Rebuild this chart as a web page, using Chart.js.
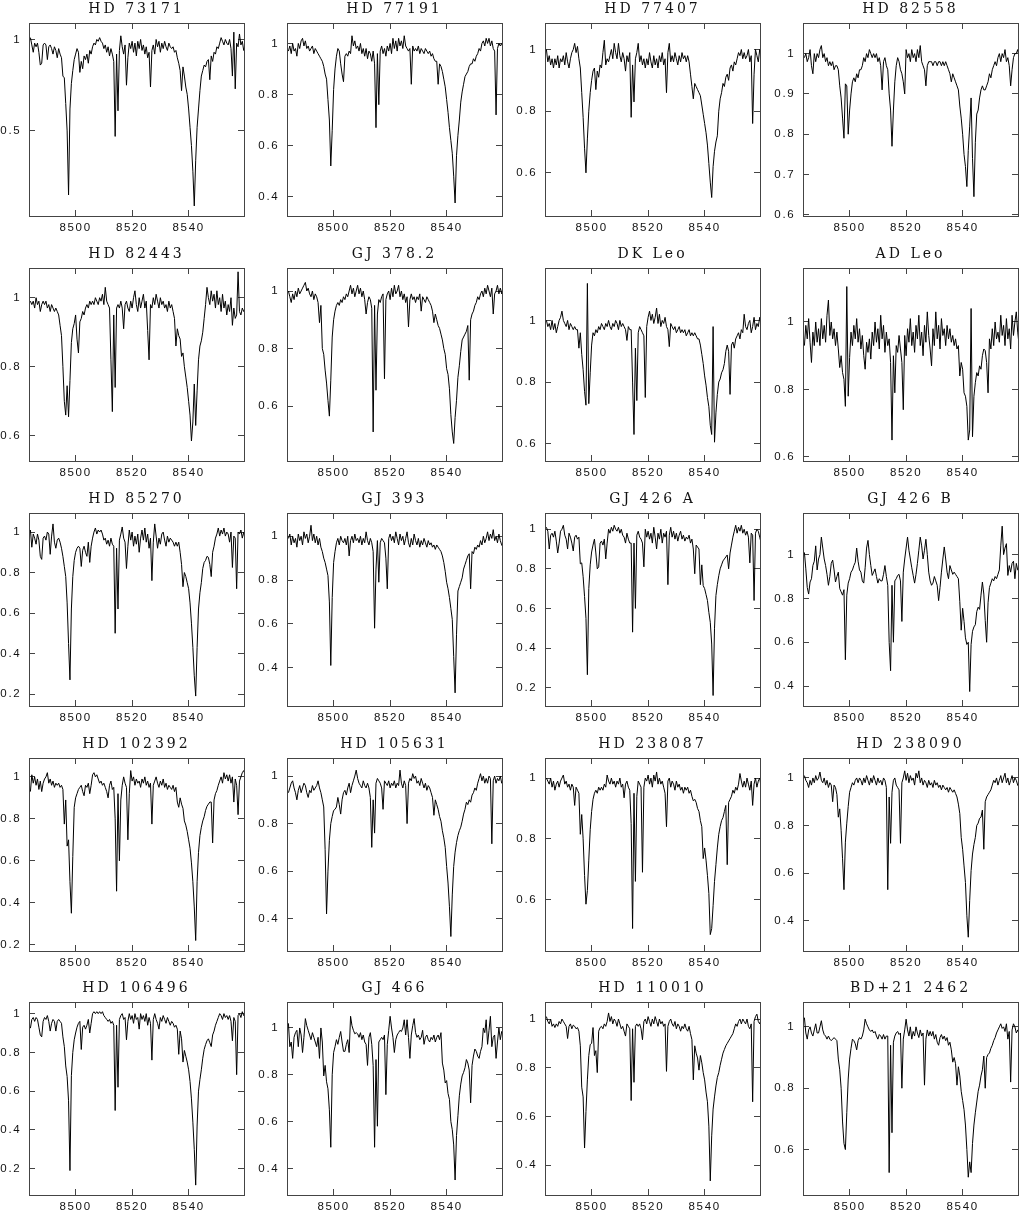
<!DOCTYPE html>
<html>
<head>
<meta charset="utf-8">
<script src="https://cdn.jsdelivr.net/npm/chart.js@4.4.1/dist/chart.umd.min.js"></script>
<style>
  html, body { margin: 0; padding: 0; background: #fff; overflow: hidden; }
  #wrap { position: relative; width: 1019px; height: 1213px; overflow: hidden; }
  #wrap canvas { position: absolute; }
</style>
</head>
<body>
<div id="wrap"></div>
<script>
// wavelength grid (Angstrom), shared by all spectra
var wave = [
  8484,8484.5,8485,8485.5,8486,8486.5,8487,8487.5,8488,8488.5,
  8489,8489.5,8490,8490.5,8491,8491.5,8492,8492.5,8493,8493.5,
  8494,8494.5,8495,8495.5,8496,8496.5,8497,8497.5,8498,8498.5,
  8499,8499.5,8500,8500.5,8501,8501.5,8502,8502.5,8503,8503.5,
  8504,8504.5,8505,8505.5,8506,8506.5,8507,8507.5,8508,8508.5,
  8509,8509.5,8510,8510.5,8511,8511.5,8512,8512.5,8513,8513.5,
  8514,8514.5,8515,8515.5,8516,8516.5,8517,8517.5,8518,8518.5,
  8519,8519.5,8520,8520.5,8521,8521.5,8522,8522.5,8523,8523.5,
  8524,8524.5,8525,8525.5,8526,8526.5,8527,8527.5,8528,8528.5,
  8529,8529.5,8530,8530.5,8531,8531.5,8532,8532.5,8533,8533.5,
  8534,8534.5,8535,8535.5,8536,8536.5,8537,8537.5,8538,8538.5,
  8539,8539.5,8540,8540.5,8541,8541.5,8542,8542.5,8543,8543.5,
  8544,8544.5,8545,8545.5,8546,8546.5,8547,8547.5,8548,8548.5,
  8549,8549.5,8550,8550.5,8551,8551.5,8552,8552.5,8553,8553.5,
  8554,8554.5,8555,8555.5,8556,8556.5,8557,8557.5,8558,8558.5,
  8559,8559.5,8560
];

// normalised flux of each star
var hd73171 = [
  1.01,0.97,0.93,0.98,0.96,0.98,0.93,0.86,0.87,0.97,
  0.98,0.97,0.89,0.96,0.97,0.95,0.92,0.96,0.94,0.90,
  0.95,0.92,0.90,0.80,0.79,0.65,0.50,0.15,0.62,0.76,
  0.83,0.89,0.92,0.95,0.93,0.82,0.88,0.84,0.91,0.89,
  0.92,0.87,0.94,0.92,0.96,0.98,0.97,1.00,0.99,1.01,
  0.99,0.98,0.95,0.97,0.93,0.96,0.91,0.95,0.92,0.88,
  0.47,0.92,0.61,0.94,1.02,0.96,0.92,0.97,0.75,0.90,
  0.98,0.95,0.99,0.93,0.98,0.91,0.99,0.95,1.00,0.94,
  0.97,0.92,0.96,0.90,0.93,0.74,0.94,0.97,0.92,1.00,
  0.96,0.99,0.93,0.98,0.95,0.99,0.96,0.94,0.98,0.96,
  0.95,0.96,0.93,0.94,0.90,0.87,0.83,0.72,0.85,0.80,
  0.74,0.70,0.62,0.52,0.42,0.28,0.09,0.34,0.52,0.62,
  0.72,0.80,0.83,0.86,0.85,0.88,0.89,0.78,0.91,0.88,
  0.93,0.92,0.96,0.95,0.98,1.01,0.99,0.97,1.00,0.98,
  0.97,1.00,0.95,0.80,1.04,0.73,0.98,0.96,1.03,0.97,
  0.99,0.94,0.97
];
var hd77191 = [
  0.97,0.99,0.96,1.00,0.97,0.98,0.95,1.00,0.98,1.01,
  1.02,0.99,1.01,0.98,0.99,0.97,0.98,0.99,0.96,0.98,
  0.97,0.96,0.95,0.94,0.93,0.91,0.88,0.86,0.78,0.70,
  0.52,0.66,0.82,0.90,0.95,0.98,0.97,0.92,0.88,0.85,
  0.95,0.96,0.95,0.97,0.96,1.03,0.99,1.01,0.98,0.99,
  0.97,1.00,0.96,0.98,0.95,0.98,0.94,0.97,0.96,0.93,
  0.97,0.92,0.67,0.96,0.76,0.97,0.99,0.96,0.98,0.95,
  0.99,0.97,1.00,0.96,1.02,0.98,1.01,0.97,1.02,0.99,
  1.01,0.98,1.03,0.99,0.98,0.97,0.98,0.84,0.99,0.97,
  0.98,0.97,0.99,0.96,0.98,0.97,0.96,0.98,0.97,0.96,
  0.97,0.95,0.96,0.94,0.93,0.93,0.84,0.92,0.91,0.89,
  0.86,0.83,0.78,0.73,0.67,0.62,0.57,0.48,0.375,0.56,
  0.64,0.70,0.77,0.81,0.84,0.87,0.88,0.89,0.91,0.92,
  0.92,0.94,0.93,0.95,0.96,0.98,0.97,1.00,1.01,0.99,
  1.02,1.00,1.02,0.99,1.01,0.98,0.97,0.72,0.98,1.00,
  0.99,1.00,0.98
];
var hd77407 = [
  1.00,0.96,0.98,0.95,0.97,0.94,0.97,0.95,0.98,0.94,
  0.97,0.96,0.98,0.95,0.99,0.96,0.94,0.97,0.99,1.00,
  1.02,0.99,1.01,0.97,0.94,0.86,0.78,0.68,0.60,0.71,
  0.80,0.86,0.90,0.93,0.94,0.87,0.93,0.91,0.95,0.94,
  0.99,1.03,0.95,0.97,0.96,0.98,1.00,0.97,1.02,0.99,
  0.97,1.02,0.98,0.96,0.99,0.97,0.93,0.98,0.96,0.99,
  0.78,0.95,0.83,0.97,0.99,1.02,0.96,0.98,0.95,0.97,
  0.94,0.97,0.95,0.99,0.96,0.94,0.98,0.95,0.97,0.94,
  0.98,0.96,0.99,0.95,0.97,0.86,0.99,1.02,0.96,0.98,
  0.96,0.99,0.97,0.95,0.98,0.96,0.99,0.97,0.98,0.96,
  0.98,0.96,0.92,0.88,0.84,0.89,0.88,0.87,0.86,0.85,
  0.82,0.79,0.76,0.73,0.69,0.63,0.57,0.52,0.62,0.67,
  0.70,0.72,0.80,0.84,0.86,0.89,0.88,0.91,0.92,0.90,
  0.94,0.95,0.93,0.96,0.95,0.97,0.99,0.98,1.00,0.97,
  0.99,0.97,0.98,1.00,0.96,0.98,0.76,0.92,1.00,0.98,
  0.96,1.00,0.97
];
var hd82558 = [
  0.99,1.00,0.98,0.99,1.01,0.97,0.95,1.00,0.98,1.00,
  0.99,1.01,1.02,0.99,1.00,0.98,0.99,0.97,0.98,0.97,
  0.98,0.96,0.97,0.97,0.96,0.92,0.89,0.84,0.79,0.925,
  0.92,0.80,0.86,0.90,0.93,0.94,0.93,0.95,0.94,0.96,
  0.96,0.97,0.99,0.98,1.00,0.99,1.01,1.00,0.99,1.00,
  0.99,1.00,0.98,0.99,0.97,0.91,0.98,0.99,0.97,0.96,
  0.90,0.86,0.77,0.86,0.93,0.97,0.99,0.98,0.96,0.95,
  0.93,0.90,1.01,0.99,1.00,0.98,1.01,0.99,1.00,0.98,
  1.01,0.99,1.02,0.98,0.97,0.96,0.92,0.97,0.98,0.98,
  0.98,0.97,0.98,0.98,0.97,0.98,0.98,0.97,0.98,0.97,
  0.98,0.97,0.96,0.95,0.93,0.95,0.94,0.93,0.92,0.91,
  0.87,0.84,0.80,0.75,0.72,0.67,0.76,0.82,0.89,0.74,
  0.645,0.78,0.85,0.86,0.89,0.91,0.92,0.91,0.91,0.92,
  0.93,0.95,0.94,0.96,0.97,0.98,0.97,0.99,1.00,0.98,
  1.00,0.99,1.01,0.98,0.99,0.97,0.92,0.96,0.99,1.00,
  1.00,1.01,0.99
];
var hd82443 = [
  0.99,0.98,0.99,0.97,1.00,0.98,0.99,0.96,0.98,0.99,
  0.98,0.99,0.97,0.98,0.96,0.98,0.97,0.96,0.97,0.96,
  0.95,0.92,0.89,0.80,0.70,0.66,0.745,0.655,0.76,0.87,
  0.91,0.925,0.95,0.88,0.84,0.93,0.94,0.96,0.95,0.97,
  0.98,0.97,0.99,0.98,0.99,0.98,1.00,0.99,0.98,1.00,
  0.99,1.01,0.98,1.03,0.99,0.98,0.97,0.82,0.67,0.95,
  0.74,0.97,0.98,0.97,0.99,0.97,0.91,0.98,0.99,0.97,
  0.96,0.99,0.97,1.00,1.02,0.98,0.96,1.00,0.97,0.99,
  1.01,0.97,0.99,0.905,0.82,0.98,0.97,1.00,0.98,1.01,
  0.99,0.97,1.00,0.98,0.99,0.97,0.98,0.96,0.99,0.97,
  0.98,0.96,0.94,0.86,0.91,0.89,0.88,0.83,0.84,0.80,
  0.77,0.74,0.70,0.66,0.585,0.64,0.75,0.63,0.73,0.82,
  0.86,0.875,0.90,0.94,0.98,1.03,1.00,0.98,1.02,0.99,
  1.01,0.97,1.02,0.98,1.00,0.96,1.01,0.97,0.99,0.95,
  0.98,0.96,1.00,0.92,0.97,0.94,0.95,1.075,0.96,0.95,
  0.97,0.96,0.97
];
var gj378_2 = [
  1.00,0.98,0.96,0.99,0.97,1.00,0.98,1.01,0.99,1.00,
  1.01,1.02,1.03,1.00,1.01,0.99,0.98,1.00,0.97,0.99,
  0.98,0.96,0.89,0.95,0.80,0.78,0.725,0.68,0.62,0.565,
  0.69,0.84,0.90,0.93,0.95,0.96,0.95,0.97,0.96,0.98,
  0.97,0.99,0.98,1.00,1.02,0.99,1.01,0.98,1.00,1.02,
  0.99,1.01,0.98,1.00,0.97,0.92,0.96,0.98,0.97,0.94,
  0.51,0.95,0.655,0.92,0.97,0.96,0.98,0.99,0.695,0.97,
  0.99,1.00,0.97,1.01,0.98,1.02,0.99,1.00,1.02,0.98,
  1.00,0.97,0.99,0.96,0.98,0.875,0.97,0.99,0.97,0.98,
  0.96,0.98,0.97,0.99,0.93,0.98,0.97,0.96,0.98,0.97,
  0.96,0.95,0.93,0.89,0.92,0.90,0.88,0.87,0.85,0.83,
  0.80,0.78,0.73,0.71,0.66,0.57,0.51,0.47,0.56,0.62,
  0.70,0.74,0.79,0.83,0.84,0.85,0.86,0.88,0.69,0.90,
  0.92,0.93,0.95,0.96,0.98,0.97,0.99,1.00,0.98,1.01,
  0.99,1.02,1.00,0.98,1.01,0.92,0.99,1.00,1.02,0.99,
  1.01,0.99,1.02
];
var dkLeo = [
  1.00,0.98,0.99,0.97,1.00,0.97,0.99,0.96,0.98,1.00,
  1.01,1.03,1.00,0.99,0.98,1.00,0.97,0.99,0.98,0.97,
  0.98,0.97,0.97,0.91,0.96,0.89,0.84,0.77,0.725,1.12,
  0.73,0.83,0.92,0.96,0.95,0.97,0.96,0.98,0.97,0.99,
  0.98,0.97,0.99,0.98,1.00,0.98,0.97,0.99,0.98,1.00,
  0.99,0.97,1.00,0.98,0.99,0.98,0.97,0.935,0.98,0.97,
  0.97,0.80,0.63,0.91,0.74,0.96,0.98,0.97,0.96,0.95,
  0.75,0.98,1.01,1.03,1.00,1.02,0.99,1.01,1.04,0.99,
  1.02,0.98,1.00,0.99,1.01,0.98,0.97,0.915,0.99,0.98,
  0.97,0.98,0.96,0.97,0.98,0.96,0.97,0.96,0.97,0.95,
  0.96,0.97,0.95,0.96,0.95,0.96,0.95,0.94,0.94,0.92,
  0.89,0.86,0.82,0.79,0.75,0.72,0.66,0.63,0.98,0.605,
  0.70,0.76,0.80,0.81,0.83,0.84,0.86,0.90,0.92,0.90,
  0.76,0.92,0.93,0.91,0.94,0.95,0.96,0.94,0.97,0.96,
  1.02,0.98,0.97,0.99,1.00,0.96,0.98,1.01,0.97,0.99,
  0.98,1.01,0.99
];
var adLeo = [
  0.93,0.99,0.95,1.01,0.94,0.88,0.97,0.93,1.00,0.94,
  0.98,0.93,1.01,0.95,0.99,0.94,1.02,1.065,0.96,1.00,
  0.95,0.98,0.93,0.97,0.92,0.865,0.90,0.85,0.83,0.75,
  1.105,0.78,0.895,0.97,0.93,0.99,0.95,1.01,0.94,0.98,
  0.92,0.96,0.90,0.86,0.94,0.91,0.95,0.89,0.97,0.93,
  1.00,0.94,0.98,0.92,1.02,0.95,0.99,0.91,0.97,0.93,
  0.95,0.88,0.65,0.90,0.79,0.93,0.91,0.96,0.92,0.88,
  0.74,0.96,0.90,0.98,0.94,1.01,0.93,0.97,0.91,0.99,
  0.95,1.02,0.93,0.97,0.90,0.99,0.94,1.03,0.96,0.92,
  0.87,0.98,0.93,1.03,0.95,0.99,0.92,1.01,0.96,0.98,
  0.93,0.99,0.95,0.98,0.94,0.96,0.93,0.95,0.92,0.93,
  0.84,0.88,0.86,0.79,0.78,0.75,0.65,0.68,1.04,0.66,
  0.78,0.82,0.85,0.84,0.87,0.86,0.90,0.92,0.915,0.88,
  0.79,0.95,0.92,0.98,0.93,1.00,0.95,0.97,0.94,1.02,
  0.96,0.99,0.93,1.01,0.95,0.98,0.92,1.02,0.96,1.00,
  1.03,0.97,0.93
];
var hd85270 = [
  1.01,0.925,0.99,0.97,0.94,0.99,0.96,0.88,0.865,0.97,
  0.98,0.96,1.00,0.99,0.89,0.98,1.04,0.95,0.92,0.96,
  0.97,0.95,0.92,0.88,0.83,0.78,0.65,0.45,0.27,0.62,
  0.78,0.86,0.90,0.92,0.93,0.92,0.83,0.91,0.93,0.90,
  0.88,0.95,0.85,0.93,0.97,1.00,1.02,0.99,1.01,1.00,
  1.01,0.99,0.96,0.97,0.94,0.96,0.93,0.97,0.94,0.93,
  0.50,0.92,0.62,0.96,0.99,1.025,0.97,0.95,0.82,0.93,
  1.01,0.96,1.00,0.93,0.98,0.94,0.99,0.90,0.97,1.01,
  0.96,1.02,0.95,0.99,0.92,0.97,0.76,0.95,1.04,0.98,
  0.92,0.97,0.94,0.99,1.00,0.96,0.93,0.98,0.95,0.97,
  0.96,0.95,0.93,0.95,0.93,0.95,0.90,0.84,0.73,0.80,
  0.78,0.75,0.72,0.65,0.55,0.43,0.29,0.19,0.43,0.62,
  0.70,0.75,0.82,0.85,0.86,0.88,0.875,0.84,0.78,0.90,
  0.93,0.97,0.99,1.02,0.98,1.01,0.99,1.02,0.98,1.00,
  0.99,0.95,1.00,0.825,0.98,0.97,0.72,1.00,0.99,1.01,
  0.97,1.00,0.96
];
var gj393 = [
  0.99,1.01,0.96,1.00,0.97,0.99,0.95,1.01,0.98,1.00,
  0.96,1.02,0.99,1.01,0.97,1.00,1.05,0.98,1.01,0.97,
  1.00,0.96,0.99,0.95,0.93,0.90,0.88,0.85,0.82,0.70,
  0.41,0.72,0.88,0.93,0.97,0.99,0.96,1.00,0.98,0.97,
  0.99,0.96,1.00,0.91,0.98,1.00,0.97,1.01,0.98,0.99,
  0.97,1.00,0.96,0.99,0.97,1.02,0.98,0.96,0.99,0.97,
  0.93,0.58,0.85,0.98,0.79,0.97,0.99,0.98,0.97,0.90,
  0.76,0.99,1.01,0.98,1.00,0.97,1.02,0.99,0.96,1.01,
  0.98,1.00,0.96,0.99,1.02,0.97,0.95,0.99,0.96,1.01,
  0.98,0.96,0.99,0.95,0.98,0.96,0.99,0.97,0.95,0.98,
  0.96,0.97,0.95,0.96,0.94,0.96,0.95,0.94,0.93,0.91,
  0.88,0.84,0.79,0.76,0.72,0.67,0.62,0.45,0.285,0.55,
  0.75,0.77,0.79,0.81,0.85,0.87,0.89,0.91,0.92,0.76,
  0.93,0.92,0.95,0.94,0.96,0.95,0.98,0.96,1.00,0.97,
  0.99,1.02,0.98,1.01,0.99,1.03,0.98,1.00,0.97,1.01,
  0.98,0.96,0.95
];
var gj426a = [
  1.01,0.99,0.90,0.97,0.98,0.96,0.99,0.94,0.88,0.93,
  0.99,1.00,1.02,0.97,0.95,0.90,0.98,0.96,0.93,0.89,
  0.96,0.97,0.95,0.96,0.825,0.83,0.76,0.66,0.55,0.265,
  0.70,0.82,0.885,0.92,0.95,0.88,0.80,0.81,0.93,0.94,
  0.92,0.95,0.85,0.93,1.00,0.98,1.01,0.99,1.02,1.00,
  0.99,1.01,0.98,1.00,0.97,0.96,0.93,0.98,0.95,0.93,
  0.93,0.48,0.93,0.60,0.97,0.99,0.96,0.95,0.93,0.81,
  1.00,0.96,0.99,0.95,0.98,0.93,1.01,0.96,0.90,0.98,
  0.95,1.00,0.93,0.98,0.96,0.99,0.72,0.97,1.01,0.96,
  0.99,0.95,0.98,0.94,0.97,0.99,0.95,0.97,0.94,0.96,
  0.95,0.97,0.93,0.95,0.90,0.775,0.92,0.91,0.90,0.72,
  0.82,0.715,0.70,0.67,0.64,0.58,0.53,0.42,0.16,0.50,
  0.665,0.72,0.765,0.80,0.82,0.84,0.85,0.86,0.87,0.80,
  0.88,0.92,0.96,0.99,1.02,0.98,1.01,0.99,1.02,0.98,
  1.00,0.97,0.99,0.96,0.83,0.98,0.97,0.64,0.98,1.00,
  0.99,0.96,0.93
];
var gj426b = [
  1.01,0.935,0.85,0.82,0.875,0.89,0.95,0.97,1.04,0.93,
  0.98,1.00,1.08,1.03,0.98,0.95,0.91,0.86,0.90,0.96,
  0.975,0.93,0.875,0.90,0.92,0.845,0.83,0.815,0.84,0.52,
  0.815,0.87,0.89,0.92,0.93,0.95,0.965,1.03,0.97,0.93,
  0.92,0.88,0.87,0.94,1.03,1.065,1.00,0.95,0.905,0.92,
  0.935,0.90,0.87,0.89,0.88,0.88,0.91,0.95,0.90,0.86,
  0.60,0.47,0.86,0.60,0.88,0.89,0.905,0.91,0.88,0.695,
  0.92,0.98,1.03,1.08,1.02,0.98,0.94,0.905,0.87,0.91,
  0.96,1.02,1.08,1.04,0.98,1.02,1.07,1.00,0.92,0.88,
  0.86,0.87,0.90,0.88,0.86,0.79,0.85,0.92,0.98,1.035,
  0.98,0.92,0.89,0.95,0.93,0.91,0.92,0.91,0.90,0.89,
  0.785,0.655,0.755,0.695,0.62,0.59,0.60,0.375,0.59,0.65,
  0.67,0.68,0.74,0.76,0.75,0.815,0.875,0.82,0.70,0.60,
  0.78,0.85,0.87,0.89,0.88,0.90,0.89,0.91,0.93,1.04,
  1.13,1.00,1.03,1.05,0.905,0.95,0.92,0.96,0.97,0.89,
  0.96,0.93,0.935
];
var hd102392 = [
  0.93,1.01,0.97,1.00,0.96,0.99,0.94,0.98,0.93,0.97,
  0.99,1.00,1.02,0.97,0.99,0.96,0.98,0.95,0.97,0.96,
  0.97,0.95,0.96,0.94,0.775,0.89,0.67,0.70,0.50,0.35,
  0.62,0.855,0.90,0.92,0.94,0.95,0.96,0.93,0.91,0.96,
  0.95,0.97,0.92,0.96,1.01,1.02,1.00,1.01,0.99,0.97,
  0.98,0.96,0.97,0.95,0.93,0.90,0.96,0.98,0.94,0.95,
  0.80,0.455,0.92,0.60,0.89,0.96,1.00,0.97,0.95,0.70,
  0.92,1.03,0.98,1.00,0.96,0.99,0.97,0.98,0.95,0.99,
  0.97,1.00,0.96,0.98,0.95,0.97,0.775,0.96,0.98,1.00,
  0.97,0.95,0.98,0.96,0.99,0.95,0.97,0.94,0.96,0.95,
  0.94,0.96,0.93,0.95,0.88,0.855,0.90,0.87,0.85,0.79,
  0.77,0.74,0.70,0.66,0.59,0.50,0.38,0.22,0.50,0.64,
  0.72,0.76,0.79,0.81,0.84,0.86,0.87,0.88,0.88,0.685,
  0.89,0.92,0.935,0.96,0.98,1.00,0.97,1.02,0.99,1.01,
  0.98,1.01,0.97,1.00,0.88,0.99,0.96,0.82,0.98,1.00,
  1.02,1.03,1.01
];
var hd105631 = [
  0.93,0.95,0.97,0.98,0.95,0.93,0.90,0.94,0.96,0.93,
  0.95,0.97,0.96,0.93,0.91,0.94,0.93,0.96,0.94,0.95,
  0.96,0.98,0.95,0.93,0.90,0.87,0.69,0.42,0.60,0.73,
  0.80,0.83,0.855,0.86,0.87,0.91,0.88,0.84,0.90,0.93,
  0.94,0.92,0.95,0.97,0.93,0.96,0.98,1.00,1.025,0.99,
  0.97,0.96,0.95,0.98,0.96,0.95,0.97,0.95,0.91,0.70,
  0.90,0.76,0.97,0.99,0.98,0.97,0.95,0.86,0.98,0.97,
  0.96,0.98,0.95,0.97,0.96,0.98,0.95,0.97,0.96,1.025,
  0.97,0.95,0.98,0.96,0.80,0.97,0.99,0.98,1.01,0.99,
  1.00,0.97,0.98,0.96,0.99,0.97,0.95,0.97,0.94,0.96,
  0.95,0.93,0.91,0.835,0.90,0.88,0.86,0.83,0.81,0.77,
  0.74,0.70,0.62,0.55,0.45,0.325,0.50,0.62,0.68,0.72,
  0.75,0.77,0.785,0.81,0.84,0.86,0.89,0.88,0.90,0.89,
  0.92,0.93,0.95,0.94,0.97,0.99,1.01,0.98,1.00,0.97,
  0.99,0.97,1.00,0.99,0.715,0.98,1.00,0.97,0.99,0.98,
  1.00,0.97,0.98
];
var hd238087 = [
  1.00,0.99,0.98,1.00,0.97,0.99,0.96,0.98,0.99,0.97,
  0.99,1.00,1.01,0.98,0.99,0.97,0.98,0.96,0.98,0.97,
  0.91,0.97,0.96,0.95,0.815,0.88,0.80,0.68,0.585,0.63,
  0.73,0.83,0.89,0.93,0.95,0.96,0.95,0.97,0.96,0.97,
  0.96,0.98,0.97,1.01,0.99,0.98,1.00,0.98,0.99,0.97,
  0.99,0.98,1.00,0.97,0.98,0.935,0.98,0.99,0.97,0.96,
  0.85,0.505,0.95,0.66,0.94,0.99,0.98,0.97,0.69,0.97,
  1.00,0.99,1.01,0.98,1.00,0.97,1.01,0.99,1.02,0.98,
  1.00,0.98,0.99,0.97,0.95,0.84,0.99,1.00,0.97,0.99,
  0.98,0.96,0.99,0.97,0.98,0.96,0.97,0.95,0.97,0.96,
  0.97,0.95,0.96,0.94,0.925,0.93,0.92,0.90,0.89,0.86,
  0.84,0.735,0.77,0.73,0.68,0.62,0.485,0.505,0.58,0.66,
  0.715,0.77,0.815,0.84,0.86,0.87,0.89,0.91,0.715,0.92,
  0.93,0.94,0.96,0.95,0.97,0.96,0.98,1.015,0.99,0.97,
  0.99,0.97,1.00,0.98,0.96,0.99,0.91,0.98,1.00,0.97,
  0.99,1.00,0.97
];
var hd238090 = [
  1.01,0.99,0.98,0.96,0.99,0.97,1.00,0.98,1.01,0.99,
  1.00,1.025,0.99,0.98,1.00,0.97,0.99,0.96,0.98,0.97,
  0.90,0.97,0.96,0.93,0.835,0.87,0.78,0.66,0.53,0.73,
  0.81,0.88,0.94,0.96,0.98,0.97,0.99,1.00,0.98,1.00,
  0.99,0.97,1.00,0.98,1.01,0.99,0.97,1.00,0.98,1.01,
  0.99,0.97,1.00,0.98,0.99,0.97,1.00,0.99,0.96,0.53,
  0.92,0.725,0.94,0.99,1.00,0.97,0.96,0.95,0.725,0.98,
  1.00,1.03,0.99,1.02,0.98,1.01,0.99,1.00,0.97,1.02,
  1.00,1.03,0.98,1.00,0.97,0.99,0.98,0.96,0.99,0.97,
  0.98,0.96,0.99,0.97,0.98,0.96,0.97,0.95,0.97,0.96,
  0.95,0.96,0.94,0.96,0.95,0.94,0.95,0.935,0.92,0.89,
  0.85,0.75,0.70,0.63,0.56,0.42,0.33,0.485,0.61,0.68,
  0.72,0.75,0.80,0.81,0.83,0.835,0.865,0.70,0.90,0.92,
  0.93,0.94,0.95,0.97,0.99,0.98,1.00,0.97,0.99,1.01,
  0.98,1.00,1.02,0.98,1.00,0.97,0.99,1.01,0.98,1.00,
  0.99,0.97,0.96
];
var hd106496 = [
  0.925,0.97,0.98,0.96,0.98,0.97,0.93,0.89,0.88,0.96,
  0.98,0.97,0.99,0.96,0.91,0.95,0.97,0.96,0.91,0.96,
  0.97,0.96,0.95,0.88,0.83,0.73,0.675,0.55,0.19,0.68,
  0.80,0.865,0.90,0.93,0.95,0.96,0.815,0.93,0.94,0.92,
  0.94,0.97,0.90,0.95,1.00,1.01,1.00,1.01,1.00,1.01,
  1.00,1.01,0.99,0.98,0.97,0.96,0.97,0.95,0.96,0.94,
  0.50,0.94,0.62,0.97,0.99,1.00,0.97,0.98,0.865,0.96,
  1.00,0.97,0.99,0.95,1.00,0.97,0.98,0.92,1.00,0.97,
  0.99,0.96,1.00,0.94,0.98,0.95,0.76,0.97,1.00,0.97,
  0.95,0.92,0.98,0.96,0.99,0.97,0.95,0.98,0.96,0.94,
  0.96,0.95,0.93,0.94,0.92,0.79,0.91,0.87,0.75,0.81,
  0.78,0.75,0.71,0.65,0.56,0.44,0.30,0.115,0.42,0.60,
  0.66,0.71,0.77,0.815,0.84,0.86,0.87,0.85,0.83,0.89,
  0.91,0.94,0.96,0.98,1.00,0.99,0.97,1.00,0.98,0.99,
  0.97,0.99,0.96,0.86,0.98,0.96,0.685,0.99,1.00,0.98,
  1.01,0.99,1.00
];
var gj466 = [
  1.02,0.92,0.94,0.87,0.96,0.98,0.99,0.92,1.00,0.97,
  0.895,0.96,1.04,1.01,0.99,0.97,0.95,0.98,0.96,0.94,
  0.92,0.96,0.87,1.00,0.94,0.795,0.84,0.77,0.74,0.65,
  0.49,0.80,0.895,0.92,0.95,0.93,0.96,0.985,0.94,0.90,
  0.90,0.93,0.95,0.895,1.05,1.01,0.99,0.975,0.98,0.975,
  0.96,0.98,0.95,0.97,0.94,0.93,0.84,0.96,0.98,0.93,
  0.84,0.49,0.865,0.58,0.94,0.95,0.96,0.95,0.97,0.715,
  0.93,0.99,1.05,1.00,0.96,0.895,0.95,0.97,0.98,0.99,
  0.985,1.00,1.035,0.97,1.035,0.96,0.87,0.97,1.01,1.04,
  0.98,0.96,0.97,0.95,0.96,0.99,0.93,0.96,0.97,0.95,
  0.94,0.96,0.95,0.97,0.94,0.96,0.97,0.95,0.98,0.85,
  0.82,0.765,0.775,0.72,0.695,0.60,0.565,0.50,0.35,0.54,
  0.625,0.71,0.76,0.795,0.81,0.83,0.865,0.85,0.82,0.68,
  0.84,0.88,0.91,0.90,0.88,0.87,0.90,0.92,1.00,0.98,
  1.035,0.93,0.99,1.05,0.92,0.96,0.97,0.87,0.94,1.00,
  0.95,0.985,0.97
];
var hd110010 = [
  1.01,0.99,0.98,1.00,0.97,0.98,0.965,0.98,0.97,0.99,
  0.98,1.00,0.99,0.98,0.97,0.92,0.97,0.98,0.96,0.975,
  0.97,0.96,0.965,0.95,0.89,0.72,0.68,0.47,0.62,0.75,
  0.85,0.895,0.90,0.965,0.85,0.87,0.78,0.95,0.965,0.97,
  0.96,0.98,0.97,0.99,1.025,0.99,1.01,0.98,1.00,0.99,
  0.97,1.00,0.98,0.96,0.97,0.95,0.93,0.98,0.97,0.96,
  0.665,0.96,0.74,0.97,0.98,0.97,0.98,0.96,0.915,0.99,
  1.00,0.98,1.01,0.99,0.97,1.00,0.98,1.01,0.99,0.97,
  1.00,0.98,0.99,0.97,0.98,0.785,0.97,0.99,1.00,0.98,
  0.97,0.99,0.96,0.98,0.97,0.95,0.97,0.96,0.98,0.96,
  0.95,0.97,0.94,0.915,0.75,0.89,0.86,0.84,0.79,0.85,
  0.82,0.78,0.75,0.70,0.66,0.56,0.335,0.52,0.63,0.68,
  0.725,0.76,0.78,0.81,0.835,0.86,0.875,0.89,0.90,0.91,
  0.92,0.93,0.94,0.96,0.98,0.97,0.99,1.00,0.98,1.00,
  0.99,0.98,1.00,0.97,0.96,0.98,0.66,0.99,1.01,1.02,
  0.99,0.98,1.00
];
var bd21_2462 = [
  1.03,0.98,0.96,0.99,1.00,0.98,0.97,0.99,1.01,0.98,
  0.98,1.00,1.02,0.99,0.975,0.97,0.96,0.97,0.96,0.955,
  0.96,0.965,0.96,0.955,0.895,0.86,0.80,0.69,0.62,0.60,
  0.72,0.83,0.895,0.93,0.96,0.955,0.945,0.925,0.955,0.965,
  0.96,0.97,0.99,1.025,1.01,1.00,0.99,0.985,0.99,0.98,
  0.985,0.97,0.96,0.975,0.97,0.96,0.975,0.96,0.97,0.97,
  0.525,0.94,0.655,0.95,0.97,0.98,0.985,0.975,0.98,0.80,
  0.96,0.99,1.025,0.99,0.97,1.00,0.96,0.985,0.97,1.00,
  0.98,0.965,0.99,0.97,0.98,0.81,0.96,0.99,0.97,0.985,
  0.97,0.985,0.96,0.975,0.95,0.94,0.965,0.975,0.96,0.97,
  0.955,0.965,0.94,0.95,0.925,0.885,0.90,0.88,0.81,0.87,
  0.84,0.79,0.76,0.73,0.68,0.60,0.51,0.56,0.525,0.62,
  0.68,0.72,0.755,0.79,0.81,0.84,0.86,0.905,0.80,0.90,
  0.91,0.915,0.93,0.94,0.955,0.965,0.98,0.99,1.00,1.01,
  0.995,1.00,0.985,1.01,0.96,0.985,0.82,0.99,1.01,1.00,
  0.98,0.99,0.975
];

var stars = ['HD 73171', 'HD 77191', 'HD 77407', 'HD 82558',
             'HD 82443', 'GJ 378.2', 'DK Leo', 'AD Leo',
             'HD 85270', 'GJ 393', 'GJ 426 A', 'GJ 426 B',
             'HD 102392', 'HD 105631', 'HD 238087', 'HD 238090',
             'HD 106496', 'GJ 466', 'HD 110010', 'BD+21 2462'];
var fluxes = [hd73171, hd77191, hd77407, hd82558,
              hd82443, gj378_2, dkLeo, adLeo,
              hd85270, gj393, gj426a, gj426b,
              hd102392, hd105631, hd238087, hd238090,
              hd106496, gj466, hd110010, bd21_2462];

// axis ranges and tick labels
var xMin = 8483.5, xMax = 8559.6;
var xTicks = [8500, 8520, 8540];
var yMin = [0.035, 0.324, 0.46, 0.597, 0.527, 0.409, 0.544, 0.588, 0.141, 0.225,
            0.107, 0.309, 0.17, 0.264, 0.431, 0.272, 0.064, 0.286, 0.277, 0.452];
var yMax = [1.09, 1.08, 1.086, 1.076, 1.086, 1.08, 1.17, 1.16, 1.094, 1.106,
            1.082, 1.19, 1.09, 1.076, 1.066, 1.084, 1.06, 1.111, 1.07, 1.081];
var yTicks = [
  [0.5, 1], [0.4, 0.6, 0.8, 1], [0.6, 0.8, 1], [0.6, 0.7, 0.8, 0.9, 1],
  [0.6, 0.8, 1], [0.6, 0.8, 1], [0.6, 0.8, 1], [0.6, 0.8, 1],
  [0.2, 0.4, 0.6, 0.8, 1], [0.4, 0.6, 0.8, 1], [0.2, 0.4, 0.6, 0.8, 1], [0.4, 0.6, 0.8, 1],
  [0.2, 0.4, 0.6, 0.8, 1], [0.4, 0.6, 0.8, 1], [0.6, 0.8, 1], [0.4, 0.6, 0.8, 1],
  [0.2, 0.4, 0.6, 0.8, 1], [0.4, 0.6, 0.8, 1], [0.4, 0.6, 0.8, 1], [0.6, 0.8, 1]
];

var colLeft = [-5, 253, 511, 769];
var rowTop = [1, 246, 491, 736, 980];
var frame = '#444';
var side = 34;   // room for the y labels (mirrored on the right so titles centre on the box)

function fixTicks(values) {
  return function(scale) {
    scale.ticks = values.map(function(v) { return {value: v}; });
  };
}

// wide glyph spacing like the original plot fonts:
// titles get more, tick labels (drawn after the datasets, z = 1) get less
var spacing = {
  id: 'spacing',
  beforeDraw: function(chart) { chart.ctx.letterSpacing = '3px'; },
  afterDatasetsDraw: function(chart) { chart.ctx.letterSpacing = '1.7px'; }
};

var wrap = document.getElementById('wrap');

for (var k = 0; k < stars.length; k++) {
  var col = k % 4, row = Math.floor(k / 4);
  var cv = document.createElement('canvas');
  var w = side + 215 + side;
  cv.width = w; cv.height = 239;
  cv.style.width = w + 'px'; cv.style.height = '239px';
  cv.style.left = colLeft[col] + 'px';
  cv.style.top = rowTop[row] + 'px';
  wrap.appendChild(cv);

  var pts = wave.map(function(wl, i) { return {x: wl, y: this[i]}; }, fluxes[k]);

  var tickGrid = {drawOnChartArea: false, tickLength: -6, color: frame, lineWidth: 1};
  var labelFont = {family: 'Liberation Sans', size: 11.5};

  new Chart(cv.getContext('2d'), {
    type: 'line',
    data: {
      datasets: [{
        data: pts,
        borderColor: '#000',
        borderWidth: 1,
        pointRadius: 0,
        tension: 0,
        fill: false
      }]
    },
    options: {
      responsive: false,
      animation: false,
      events: [],
      layout: {padding: 0},
      plugins: {
        legend: {display: false},
        tooltip: {enabled: false},
        title: {
          display: true,
          text: stars[k],
          color: '#111',
          font: {family: 'DejaVu Serif', size: 14, weight: 'normal', lineHeight: 1.2},
          padding: {top: 0, bottom: 5.2}
        }
      },
      scales: {
        x: {
          type: 'linear', position: 'bottom', min: xMin, max: xMax,
          afterBuildTicks: fixTicks(xTicks),
          afterFit: function(s) { s.height = 24; },
          grid: tickGrid,
          border: {color: frame},
          ticks: {z: 1, padding: 11, color: '#111', font: labelFont, maxRotation: 0, autoSkip: false,
                  callback: function(v) { return String(v); }}
        },
        x2: {
          type: 'linear', position: 'top', min: xMin, max: xMax,
          afterBuildTicks: fixTicks(xTicks),
          afterFit: function(s) { s.height = 0; },
          grid: tickGrid,
          border: {color: frame},
          ticks: {display: false}
        },
        y: {
          type: 'linear', position: 'left', min: yMin[k], max: yMax[k],
          afterBuildTicks: fixTicks(yTicks[k]),
          afterFit: function(s) { s.width = side; },
          grid: tickGrid,
          border: {color: frame},
          ticks: {z: 1, padding: 13.6, color: '#111', font: labelFont, autoSkip: false,
                  callback: function(v) { return String(v); }}
        },
        y2: {
          type: 'linear', position: 'right', min: yMin[k], max: yMax[k],
          afterBuildTicks: fixTicks(yTicks[k]),
          afterFit: function(s) { s.width = side; },
          grid: tickGrid,
          border: {color: frame},
          ticks: {display: false}
        }
      }
    },
    plugins: [spacing]
  });
}
</script>
</body>
</html>
